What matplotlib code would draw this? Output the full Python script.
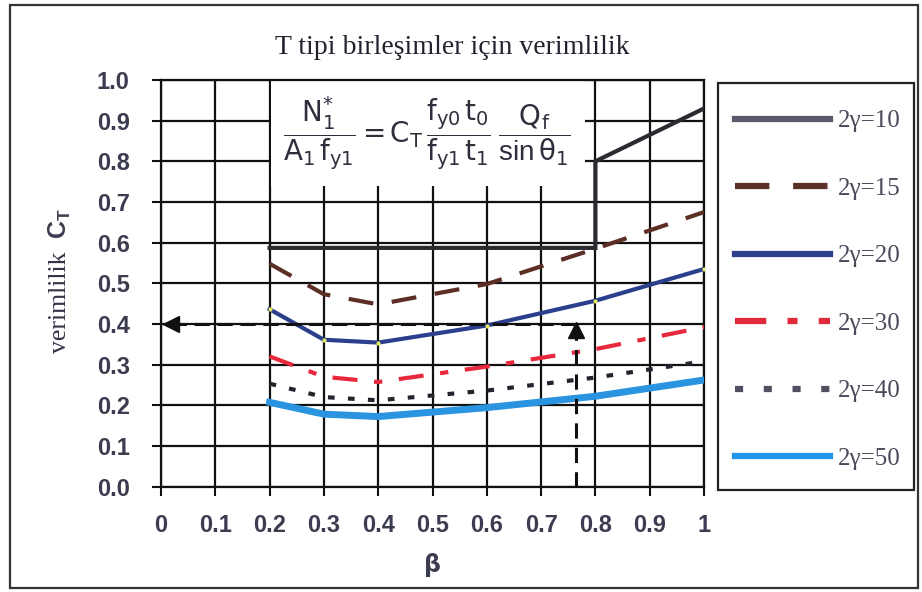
import matplotlib
matplotlib.use("Agg")
import matplotlib.pyplot as plt
from matplotlib.lines import Line2D
from matplotlib.patches import Rectangle

plt.rcParams['mathtext.fontset'] = 'custom'
plt.rcParams['mathtext.rm'] = 'Liberation Sans'
plt.rcParams['mathtext.it'] = 'Liberation Sans'
plt.rcParams['mathtext.bf'] = 'Liberation Sans:bold'
plt.rcParams['mathtext.default'] = 'regular'

# --- data -----------------------------------------------------------------
beta = [0.2, 0.3, 0.4, 0.6, 0.8, 1.0]

ct_10_x = [0.2, 0.3, 0.4, 0.6, 0.8, 0.8, 0.9, 1.0]
ct_10 = [0.587, 0.587, 0.587, 0.587, 0.587, 0.80, 0.865, 0.93]
ct_15 = [0.548, 0.473, 0.448, 0.498, 0.585, 0.675]
ct_20 = [0.436, 0.361, 0.354, 0.396, 0.457, 0.535]
ct_30 = [0.320, 0.270, 0.257, 0.295, 0.338, 0.392]
ct_40 = [0.253, 0.220, 0.212, 0.236, 0.268, 0.308]
ct_50 = [0.207, 0.178, 0.172, 0.194, 0.222, 0.262]

labels = ['2γ=10', '2γ=15', '2γ=20', '2γ=30', '2γ=40', '2γ=50']

# worked example read-off: beta -> C_T
example_beta = 0.765
example_ct = 0.40

x_ticks = [0, 0.1, 0.2, 0.3, 0.4, 0.5, 0.6, 0.7, 0.8, 0.9, 1.0]
x_ticklabels = ['0', '0.1', '0.2', '0.3', '0.4', '0.5', '0.6', '0.7', '0.8', '0.9', '1']
y_ticks = [0.0, 0.1, 0.2, 0.3, 0.4, 0.5, 0.6, 0.7, 0.8, 0.9, 1.0]
y_ticklabels = ['0.0', '0.1', '0.2', '0.3', '0.4', '0.5', '0.6', '0.7', '0.8', '0.9', '1.0']

# --- figure ---------------------------------------------------------------
W, H = 922, 592
fig = plt.figure(figsize=(W / 100, H / 100), dpi=100)
fig.patch.set_facecolor('white')

def fx(px):
    return px / W

def fy(py):
    return 1 - py / H

ax = fig.add_axes([fx(161), fy(486.5), fx(704) - fx(161), fy(80) - fy(486.5)])
ax.set_xlim(0, 1)
ax.set_ylim(0, 1)

ax.set_xticks(x_ticks)
ax.set_xticklabels(x_ticklabels)
ax.set_yticks(y_ticks)
ax.set_yticklabels(y_ticklabels)
tick_color = '#3c3c50'
ax.tick_params(axis='both', direction='out', length=6.5, width=1.5, color='#111111',
               labelcolor=tick_color, labelsize=17)
ax.tick_params(axis='y', pad=16)
ax.tick_params(axis='x', pad=13)
for lab in ax.get_xticklabels() + ax.get_yticklabels():
    lab.set_fontfamily('Liberation Sans')
    lab.set_fontweight('bold')

ax.grid(True, color='#111111', linewidth=1.6, zorder=0)
ax.set_axisbelow(True)
for s in ax.spines.values():
    s.set_linewidth(1.6)
    s.set_color('#111111')

# white panel carrying the design formula
ax.add_patch(Rectangle((0.203, 0.74), 0.577, 0.26, facecolor='white', edgecolor='none',
                       zorder=1.5))
ax.text(0.49, 0.868,
        r'$\dfrac{N_1^{*}}{A_1\,f_{y1}}=C_T\,\dfrac{f_{y0}\,t_0}{f_{y1}\,t_1}\;\dfrac{Q_f}{\sin\theta_1}$',
        ha='center', va='center', fontsize=20, color='#2e2e3c', zorder=2)

# curves
ax.plot(ct_10_x, ct_10, color='#2a2a30', lw=3.0, zorder=3, solid_joinstyle='miter')
ax.plot(beta, ct_15, color='#5c2e26', lw=3.0, dashes=(6, 4.5), zorder=3)
ax.plot(beta, ct_20, color='#2b3f8c', lw=3.0, zorder=3,
        marker='o', ms=3, mfc='#e8e860', mec='none')
ax.plot(beta, ct_30, color='#e8283c', lw=3.0, dashes=(6, 4, 2, 4), zorder=3)
ax.plot(beta, ct_40, color='#24242e', lw=3.0, dashes=(1.6, 3.2), zorder=3)
ax.plot(beta, ct_50, color='#2a94e0', lw=5.0, zorder=3)

# read-off arrows
ax.plot([example_beta, 0.03], [example_ct, example_ct], color='#111111', lw=2.2,
        dashes=(5, 2.5), zorder=4)
ax.plot([0.018], [example_ct], marker='<', ms=11, color='#111111', zorder=4)
ax.plot([example_beta, example_beta], [0.0, example_ct - 0.03], color='#111111', lw=2.2,
        dashes=(5, 3), zorder=4)
ax.plot([example_beta], [example_ct - 0.016], marker='^', ms=12, color='#111111', zorder=4)

# titles
fig.text(fx(452), fy(47), 'T tipi birleşimler için verimlilik', ha='center', va='center',
         fontsize=20, family='Liberation Serif', color='#22222e')
fig.text(fx(432), fy(565), 'β', ha='center', va='center', fontsize=17,
         family='DejaVu Sans', fontweight='bold', color=tick_color)
fig.text(fx(60), fy(302), 'verimlilik', ha='center', va='center', rotation=90,
         fontsize=18.5, family='Liberation Serif', color='#33334a')
fig.text(fx(60), fy(224), r'$\mathbf{C_T}$', ha='center', va='center', rotation=90,
         fontsize=18, color='#3c3c50')

# legend
handles = [
    Line2D([], [], color='#5a5a6a', lw=4.5),
    Line2D([], [], color='#5a3028', lw=4.5, dashes=(5.5, 3.8)),
    Line2D([], [], color='#2b3f8c', lw=4.5),
    Line2D([], [], color='#e02a3a', lw=4.5, dashes=(5, 3.4, 1.6, 3.4)),
    Line2D([], [], color='#505062', lw=4.5, dashes=(1.3, 3.3)),
    Line2D([], [], color='#2196e8', lw=4.5),
]
fig.legend(handles, labels, loc='upper left', bbox_to_anchor=(fx(735), fy(110)),
           frameon=False, prop={'family': 'Liberation Serif', 'size': 18},
           labelcolor='#4a4a5a', handlelength=3.8, handletextpad=0.3,
           labelspacing=1.80, borderpad=0.0, borderaxespad=0.0)
fig.add_artist(Rectangle((fx(718), fy(490)), fx(914) - fx(718), fy(83) - fy(490),
                         transform=fig.transFigure, facecolor='none',
                         edgecolor='#222222', lw=1.6))

# outer frame
fig.add_artist(Rectangle((fx(10), fy(588)), fx(918) - fx(10), fy(5) - fy(588),
                         transform=fig.transFigure, facecolor='none',
                         edgecolor='#333333', lw=1.6))

fig.savefig('out.png', dpi=100)
